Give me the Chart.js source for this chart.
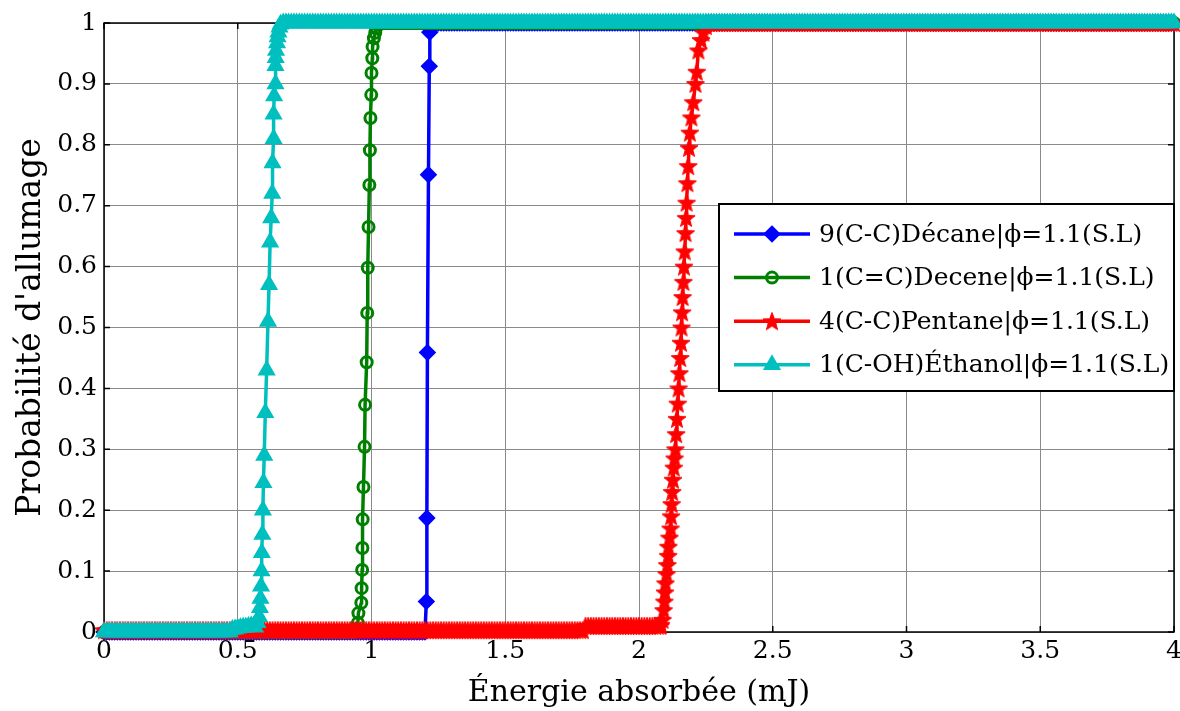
<!DOCTYPE html>
<html>
<head>
<meta charset="utf-8">
<script src="https://cdn.jsdelivr.net/npm/chart.js@4.4.1/dist/chart.umd.min.js"></script>
<style>
  html, body { margin: 0; padding: 0; background: #fff; }
  #wrap { width: 1180px; height: 711px; }
</style>
</head>
<body>
<div id="wrap"><canvas id="chart" width="1180" height="711"></canvas></div>
<script>
// legend text and tick values
const seriesNames = [
    '9(C-C)Décane|ϕ=1.1(S.L)',
    '1(C=C)Decene|ϕ=1.1(S.L)',
    '4(C-C)Pentane|ϕ=1.1(S.L)',
    '1(C-OH)Éthanol|ϕ=1.1(S.L)'
];
const xTickValues = [0, 0.5, 1, 1.5, 2, 2.5, 3, 3.5, 4];
const yTickValues = [0, 0.1, 0.2, 0.3, 0.4, 0.5, 0.6, 0.7, 0.8, 0.9, 1];

// energy grid (mJ), one row per 0.1 mJ
const energyGrid = [
0,0.01,0.02,0.03,0.04,0.05,0.06,0.07,0.08,0.09,
0.1,0.11,0.12,0.13,0.14,0.15,0.16,0.17,0.18,0.19,
0.2,0.21,0.22,0.23,0.24,0.25,0.26,0.27,0.28,0.29,
0.3,0.31,0.32,0.33,0.34,0.35,0.36,0.37,0.38,0.39,
0.4,0.41,0.42,0.43,0.44,0.45,0.46,0.47,0.48,0.49,
0.5,0.51,0.52,0.53,0.54,0.55,0.56,0.57,0.58,0.59,
0.6,0.61,0.62,0.63,0.64,0.65,0.66,0.67,0.68,0.69,
0.7,0.71,0.72,0.73,0.74,0.75,0.76,0.77,0.78,0.79,
0.8,0.81,0.82,0.83,0.84,0.85,0.86,0.87,0.88,0.89,
0.9,0.91,0.92,0.93,0.94,0.95,0.96,0.97,0.98,0.99,
1,1.01,1.02,1.03,1.04,1.05,1.06,1.07,1.08,1.09,
1.1,1.11,1.12,1.13,1.14,1.15,1.16,1.17,1.18,1.19,
1.2,1.21,1.22,1.23,1.24,1.25,1.26,1.27,1.28,1.29,
1.3,1.31,1.32,1.33,1.34,1.35,1.36,1.37,1.38,1.39,
1.4,1.41,1.42,1.43,1.44,1.45,1.46,1.47,1.48,1.49,
1.5,1.51,1.52,1.53,1.54,1.55,1.56,1.57,1.58,1.59,
1.6,1.61,1.62,1.63,1.64,1.65,1.66,1.67,1.68,1.69,
1.7,1.71,1.72,1.73,1.74,1.75,1.76,1.77,1.78,1.79,
1.8,1.81,1.82,1.83,1.84,1.85,1.86,1.87,1.88,1.89,
1.9,1.91,1.92,1.93,1.94,1.95,1.96,1.97,1.98,1.99,
2,2.01,2.02,2.03,2.04,2.05,2.06,2.07,2.08,2.09,
2.1,2.11,2.12,2.13,2.14,2.15,2.16,2.17,2.18,2.19,
2.2,2.21,2.22,2.23,2.24,2.25,2.26,2.27,2.28,2.29,
2.3,2.31,2.32,2.33,2.34,2.35,2.36,2.37,2.38,2.39,
2.4,2.41,2.42,2.43,2.44,2.45,2.46,2.47,2.48,2.49,
2.5,2.51,2.52,2.53,2.54,2.55,2.56,2.57,2.58,2.59,
2.6,2.61,2.62,2.63,2.64,2.65,2.66,2.67,2.68,2.69,
2.7,2.71,2.72,2.73,2.74,2.75,2.76,2.77,2.78,2.79,
2.8,2.81,2.82,2.83,2.84,2.85,2.86,2.87,2.88,2.89,
2.9,2.91,2.92,2.93,2.94,2.95,2.96,2.97,2.98,2.99,
3,3.01,3.02,3.03,3.04,3.05,3.06,3.07,3.08,3.09,
3.1,3.11,3.12,3.13,3.14,3.15,3.16,3.17,3.18,3.19,
3.2,3.21,3.22,3.23,3.24,3.25,3.26,3.27,3.28,3.29,
3.3,3.31,3.32,3.33,3.34,3.35,3.36,3.37,3.38,3.39,
3.4,3.41,3.42,3.43,3.44,3.45,3.46,3.47,3.48,3.49,
3.5,3.51,3.52,3.53,3.54,3.55,3.56,3.57,3.58,3.59,
3.6,3.61,3.62,3.63,3.64,3.65,3.66,3.67,3.68,3.69,
3.7,3.71,3.72,3.73,3.74,3.75,3.76,3.77,3.78,3.79,
3.8,3.81,3.82,3.83,3.84,3.85,3.86,3.87,3.88,3.89,
3.9,3.91,3.92,3.93,3.94,3.95,3.96,3.97,3.98,3.99,
4
];

// probability on the grid, same rows (null where the steep part below takes over)
const decaneProb = [
0,0,0,0,0,0,0,0,0,0,        // 0.0
0,0,0,0,0,0,0,0,0,0,
0,0,0,0,0,0,0,0,0,0,
0,0,0,0,0,0,0,0,0,0,
0,0,0,0,0,0,0,0,0,0,
0,0,0,0,0,0,0,0,0,0,
0,0,0,0,0,0,0,0,0,0,
0,0,0,0,0,0,0,0,0,0,
0,0,0,0,0,0,0,0,0,0,
0,0,0,0,0,0,0,0,0,0,
0,0,0,0,0,0,0,0,0,0,        // 1.0
0,0,0,0,0,0,0,0,0,0,
0,null,1,1,1,1,1,1,1,1,
1,1,1,1,1,1,1,1,1,1,
1,1,1,1,1,1,1,1,1,1,
1,1,1,1,1,1,1,1,1,1,
1,1,1,1,1,1,1,1,1,1,
1,1,1,1,1,1,1,1,1,1,
1,1,1,1,1,1,1,1,1,1,
1,1,1,1,1,1,1,1,1,1,
1,1,1,1,1,1,1,1,1,1,        // 2.0
1,1,1,1,1,1,1,1,1,1,
1,1,1,1,1,1,1,1,1,1,
1,1,1,1,1,1,1,1,1,1,
1,1,1,1,1,1,1,1,1,1,
1,1,1,1,1,1,1,1,1,1,
1,1,1,1,1,1,1,1,1,1,
1,1,1,1,1,1,1,1,1,1,
1,1,1,1,1,1,1,1,1,1,
1,1,1,1,1,1,1,1,1,1,
1,1,1,1,1,1,1,1,1,1,        // 3.0
1,1,1,1,1,1,1,1,1,1,
1,1,1,1,1,1,1,1,1,1,
1,1,1,1,1,1,1,1,1,1,
1,1,1,1,1,1,1,1,1,1,
1,1,1,1,1,1,1,1,1,1,
1,1,1,1,1,1,1,1,1,1,
1,1,1,1,1,1,1,1,1,1,
1,1,1,1,1,1,1,1,1,1,
1,1,1,1,1,1,1,1,1,1,
1                           // 4.0
];
const deceneProb = [
0,0,0,0,0,0,0,0,0,0,        // 0.0
0,0,0,0,0,0,0,0,0,0,
0,0,0,0,0,0,0,0,0,0,
0,0,0,0,0,0,0,0,0,0,
0,0,0,0,0,0,0,0,0,0,
0,0,0,0,0,0,0,0,0,0,
0,0,0,0,0,0,0,0,0,0,
0,0,0,0,0,0,0,0,0,0,
0,0,0,0,0,0,0,0,0,0,
0,0,0,0,0,null,null,null,null,null,
null,null,null,1,1,1,1,1,1,1, // 1.0
1,1,1,1,1,1,1,1,1,1,
1,1,1,1,1,1,1,1,1,1,
1,1,1,1,1,1,1,1,1,1,
1,1,1,1,1,1,1,1,1,1,
1,1,1,1,1,1,1,1,1,1,
1,1,1,1,1,1,1,1,1,1,
1,1,1,1,1,1,1,1,1,1,
1,1,1,1,1,1,1,1,1,1,
1,1,1,1,1,1,1,1,1,1,
1,1,1,1,1,1,1,1,1,1,        // 2.0
1,1,1,1,1,1,1,1,1,1,
1,1,1,1,1,1,1,1,1,1,
1,1,1,1,1,1,1,1,1,1,
1,1,1,1,1,1,1,1,1,1,
1,1,1,1,1,1,1,1,1,1,
1,1,1,1,1,1,1,1,1,1,
1,1,1,1,1,1,1,1,1,1,
1,1,1,1,1,1,1,1,1,1,
1,1,1,1,1,1,1,1,1,1,
1,1,1,1,1,1,1,1,1,1,        // 3.0
1,1,1,1,1,1,1,1,1,1,
1,1,1,1,1,1,1,1,1,1,
1,1,1,1,1,1,1,1,1,1,
1,1,1,1,1,1,1,1,1,1,
1,1,1,1,1,1,1,1,1,1,
1,1,1,1,1,1,1,1,1,1,
1,1,1,1,1,1,1,1,1,1,
1,1,1,1,1,1,1,1,1,1,
1,1,1,1,1,1,1,1,1,1,
1                           // 4.0
];
const pentaneProb = [
0.003,0.003,0.003,0.003,0.003,0.003,0.003,0.003,0.003,0.003, // 0.0
0.003,0.003,0.003,0.003,0.003,0.003,0.003,0.003,0.003,0.003,
0.003,0.003,0.003,0.003,0.003,0.003,0.003,0.003,0.003,0.003,
0.003,0.003,0.003,0.003,0.003,0.003,0.003,0.003,0.003,0.003,
0.003,0.003,0.003,0.003,0.003,0.003,0.003,0.003,0.003,0.003,
0.003,0.003,0.003,0.003,0.003,0.003,0.003,0.003,0.003,0.003,
0.003,0.003,0.003,0.003,0.003,0.003,0.003,0.003,0.003,0.003,
0.003,0.003,0.003,0.003,0.003,0.003,0.003,0.003,0.003,0.003,
0.003,0.003,0.003,0.003,0.003,0.003,0.003,0.003,0.003,0.003,
0.003,0.003,0.003,0.003,0.003,0.003,0.003,0.003,0.003,0.003,
0.003,0.003,0.003,0.003,0.003,0.003,0.003,0.003,0.003,0.003, // 1.0
0.003,0.003,0.003,0.003,0.003,0.003,0.003,0.003,0.003,0.003,
0.003,0.003,0.003,0.003,0.003,0.003,0.003,0.003,0.003,0.003,
0.003,0.003,0.003,0.003,0.003,0.003,0.003,0.003,0.003,0.003,
0.003,0.003,0.003,0.003,0.003,0.003,0.003,0.003,0.003,0.003,
0.003,0.003,0.003,0.003,0.003,0.003,0.003,0.003,0.003,0.003,
0.003,0.003,0.003,0.003,0.003,0.003,0.003,0.003,0.003,0.003,
0.003,0.003,0.003,0.003,0.003,0.003,0.003,0.003,0.003,0.003,
0.01,0.01,0.01,0.01,0.01,0.01,0.01,0.01,0.01,0.01,
0.01,0.01,0.01,0.01,0.01,0.01,0.01,0.01,0.01,0.01,
0.01,0.01,0.01,0.01,0.01,0.01,0.01,0.01,0.01,null,           // 2.0
null,null,null,null,null,null,null,null,null,null,
null,null,null,null,null,null,1,1,1,1,
1,1,1,1,1,1,1,1,1,1,
1,1,1,1,1,1,1,1,1,1,
1,1,1,1,1,1,1,1,1,1,
1,1,1,1,1,1,1,1,1,1,
1,1,1,1,1,1,1,1,1,1,
1,1,1,1,1,1,1,1,1,1,
1,1,1,1,1,1,1,1,1,1,
1,1,1,1,1,1,1,1,1,1,        // 3.0
1,1,1,1,1,1,1,1,1,1,
1,1,1,1,1,1,1,1,1,1,
1,1,1,1,1,1,1,1,1,1,
1,1,1,1,1,1,1,1,1,1,
1,1,1,1,1,1,1,1,1,1,
1,1,1,1,1,1,1,1,1,1,
1,1,1,1,1,1,1,1,1,1,
1,1,1,1,1,1,1,1,1,1,
1,1,1,1,1,1,1,1,1,1,
1                           // 4.0
];
const ethanolProb = [
0,0,0,0,0,0,0,0,0,0,        // 0.0
0,0,0,0,0,0,0,0,0,0,
0,0,0,0,0,0,0,0,0,0,
0,0,0,0,0,0,0,0,0,0,
0,0,0,0,0,0,0,0,0.004,0.005,
0.006,0.007,0.008,0.008,0.009,0.01,0.01,null,null,null,
null,null,null,null,null,null,null,1,1,1,
1,1,1,1,1,1,1,1,1,1,
1,1,1,1,1,1,1,1,1,1,
1,1,1,1,1,1,1,1,1,1,
1,1,1,1,1,1,1,1,1,1,        // 1.0
1,1,1,1,1,1,1,1,1,1,
1,1,1,1,1,1,1,1,1,1,
1,1,1,1,1,1,1,1,1,1,
1,1,1,1,1,1,1,1,1,1,
1,1,1,1,1,1,1,1,1,1,
1,1,1,1,1,1,1,1,1,1,
1,1,1,1,1,1,1,1,1,1,
1,1,1,1,1,1,1,1,1,1,
1,1,1,1,1,1,1,1,1,1,
1,1,1,1,1,1,1,1,1,1,        // 2.0
1,1,1,1,1,1,1,1,1,1,
1,1,1,1,1,1,1,1,1,1,
1,1,1,1,1,1,1,1,1,1,
1,1,1,1,1,1,1,1,1,1,
1,1,1,1,1,1,1,1,1,1,
1,1,1,1,1,1,1,1,1,1,
1,1,1,1,1,1,1,1,1,1,
1,1,1,1,1,1,1,1,1,1,
1,1,1,1,1,1,1,1,1,1,
1,1,1,1,1,1,1,1,1,1,        // 3.0
1,1,1,1,1,1,1,1,1,1,
1,1,1,1,1,1,1,1,1,1,
1,1,1,1,1,1,1,1,1,1,
1,1,1,1,1,1,1,1,1,1,
1,1,1,1,1,1,1,1,1,1,
1,1,1,1,1,1,1,1,1,1,
1,1,1,1,1,1,1,1,1,1,
1,1,1,1,1,1,1,1,1,1,
1,1,1,1,1,1,1,1,1,1,
1                           // 4.0
];

// steep parts [energy, probability], read point by point
const decaneSteep = [
[1.205,0.05],[1.207,0.187],[1.209,0.459],[1.213,0.751],[1.216,0.929],[1.218,0.985]
];
const deceneSteep = [
[0.945,0.005],[0.949,0.015],[0.951,0.031],[0.962,0.048],[0.963,0.072],[0.965,0.102],[0.966,0.138],
[0.967,0.185],[0.97,0.238],[0.974,0.304],[0.976,0.373],[0.982,0.443],[0.984,0.524],[0.986,0.598],
[0.989,0.665],[0.992,0.734],[0.994,0.791],[0.996,0.844],[0.999,0.882],[1,0.918],[1.003,0.942],
[1.004,0.961],[1.009,0.975],[1.014,0.984],[1.018,0.992],[1.022,0.997]
];
const pentaneSteep = [
[2.082,0.012],[2.088,0.02],[2.092,0.036],[2.095,0.05],[2.097,0.065],[2.099,0.08],[2.103,0.095],[2.106,0.11],
[2.109,0.125],[2.11,0.14],[2.114,0.155],[2.118,0.17],[2.12,0.19],[2.122,0.21],[2.124,0.23],[2.127,0.25],
[2.13,0.27],[2.133,0.285],[2.136,0.3],[2.139,0.325],[2.142,0.35],[2.145,0.375],[2.148,0.4],[2.151,0.425],
[2.154,0.45],[2.157,0.475],[2.159,0.5],[2.161,0.525],[2.163,0.55],[2.166,0.575],[2.168,0.6],[2.171,0.625],
[2.174,0.655],[2.176,0.68],[2.178,0.705],[2.181,0.737],[2.184,0.765],[2.187,0.795],[2.19,0.82],[2.196,0.845],
[2.203,0.87],[2.211,0.9],[2.216,0.92],[2.222,0.955],[2.232,0.972],[2.241,0.984],[2.25,0.995]
];
const ethanolSteep = [
[0.565,0.008],[0.574,0.015],[0.58,0.025],[0.583,0.04],[0.585,0.055],[0.587,0.075],[0.589,0.1],[0.59,0.13],
[0.592,0.16],[0.594,0.2],[0.596,0.245],[0.599,0.29],[0.603,0.36],[0.608,0.43],[0.613,0.51],[0.617,0.57],
[0.621,0.64],[0.625,0.68],[0.629,0.72],[0.63,0.77],[0.634,0.81],[0.634,0.85],[0.636,0.88],[0.641,0.9],
[0.641,0.93],[0.642,0.943],[0.643,0.955],[0.647,0.967],[0.649,0.977],[0.652,0.985],[0.656,0.993],[0.66,0.998]
];

const FONT = '"DejaVu Serif", "Liberation Serif", serif';

function buildPoints(prob, steep) {
    const pts = [];
    energyGrid.forEach((x, i) => {
        if (prob[i] != null) pts.push({ x: x, y: prob[i] });
    });
    steep.forEach(p => pts.push({ x: p[0], y: p[1] }));
    pts.sort((a, b) => a.x - b.x);
    return pts;
}

// matlab style pentagram marker
function makeStar(color, size) {
    const c = document.createElement('canvas');
    c.width = size;
    c.height = size;
    const g = c.getContext('2d');
    const cx = size / 2, cy = size / 2 + 0.8;
    const ro = size / 2 - 0.5, ri = ro * 0.42;
    g.beginPath();
    for (let i = 0; i < 10; i++) {
        const r = i % 2 ? ri : ro;
        const a = -Math.PI / 2 + i * Math.PI / 5;
        g.lineTo(cx + r * Math.cos(a), cy + r * Math.sin(a));
    }
    g.closePath();
    g.fillStyle = color;
    g.fill();
    g.strokeStyle = color;
    g.lineWidth = 1;
    g.stroke();
    return c;
}

function makeSeries(label, points, color, marker, radius, fillColor, markerWidth, order) {
    return {
        label: label,
        data: points,
        showLine: true,
        tension: 0,
        borderColor: color,
        backgroundColor: color,
        borderWidth: 3.5,
        pointStyle: marker,
        pointRadius: radius,
        pointBorderWidth: markerWidth,
        pointBorderColor: color,
        pointBackgroundColor: fillColor,
        clip: false,
        order: order
    };
}

// box around the axes with inward ticks, like matlab
const axesBox = {
    id: 'axesBox',
    beforeDatasetsDraw(chart) {
        const { ctx, chartArea: a, scales } = chart;
        ctx.save();
        ctx.strokeStyle = '#000';
        ctx.lineWidth = 1.5;
        ctx.strokeRect(a.left, a.top, a.right - a.left, a.bottom - a.top);
        ctx.beginPath();
        xTickValues.forEach(v => {
            const px = scales.x.getPixelForValue(v);
            ctx.moveTo(px, a.bottom); ctx.lineTo(px, a.bottom - 6);
            ctx.moveTo(px, a.top); ctx.lineTo(px, a.top + 6);
        });
        yTickValues.forEach(v => {
            const py = scales.y.getPixelForValue(v);
            ctx.moveTo(a.left, py); ctx.lineTo(a.left + 6, py);
            ctx.moveTo(a.right, py); ctx.lineTo(a.right - 6, py);
        });
        ctx.stroke();
        ctx.restore();
    }
};

// legend box drawn inside the plot area
const boxLegend = {
    id: 'boxLegend',
    afterDraw(chart) {
        const { ctx, chartArea } = chart;
        const w = 455, h = 187;
        const x0 = chartArea.right - w, y0 = chartArea.top + 181;
        ctx.save();
        ctx.fillStyle = '#fff';
        ctx.fillRect(x0, y0, w, h);
        ctx.strokeStyle = '#000';
        ctx.lineWidth = 2;
        ctx.strokeRect(x0, y0, w, h);
        ctx.font = '25px ' + FONT;
        ctx.textBaseline = 'middle';
        chart.data.datasets.forEach((ds, i) => {
            const y = y0 + 30 + i * 43.6;
            ctx.strokeStyle = ds.borderColor;
            ctx.lineWidth = ds.borderWidth;
            ctx.beginPath();
            ctx.moveTo(x0 + 15, y);
            ctx.lineTo(x0 + 91, y);
            ctx.stroke();
            ctx.fillStyle = ds.pointBackgroundColor;
            ctx.strokeStyle = ds.pointBorderColor;
            ctx.lineWidth = ds.pointBorderWidth;
            Chart.helpers.drawPoint(ctx, {
                pointStyle: ds.pointStyle, radius: ds.pointRadius,
                borderWidth: ds.pointBorderWidth, rotation: 0
            }, x0 + 53, y);
            ctx.fillStyle = '#000';
            ctx.fillText(ds.label, x0 + 100, y + 1);
        });
        ctx.restore();
    }
};

const starMarker = makeStar('#ff0000', 20);

new Chart(document.getElementById('chart'), {
    type: 'scatter',
    data: {
        datasets: [
            makeSeries(seriesNames[0], buildPoints(decaneProb, decaneSteep), '#0000ff', 'rectRot', 7, '#0000ff', 2.5, 4),
            makeSeries(seriesNames[1], buildPoints(deceneProb, deceneSteep), '#008000', 'circle', 5.5, 'rgba(0,0,0,0)', 3, 3),
            makeSeries(seriesNames[2], buildPoints(pentaneProb, pentaneSteep), '#ff0000', starMarker, 9, '#ff0000', 2.5, 2),
            makeSeries(seriesNames[3], buildPoints(ethanolProb, ethanolSteep), '#00bfbf', 'triangle', 8, '#00bfbf', 2.5, 1)
        ]
    },
    options: {
        responsive: false,
        animation: false,
        devicePixelRatio: 1,
        events: [],
        layout: { autoPadding: false, padding: { left: 4, right: 6, top: 23, bottom: 0 } },
        plugins: {
            legend: { display: false },
            tooltip: { enabled: false }
        },
        scales: {
            x: {
                type: 'linear',
                min: 0,
                max: 4,
                afterBuildTicks: s => { s.ticks = xTickValues.map(v => ({ value: v })); },
                afterFit: s => { s.height = 79; s.paddingRight = 0; s.paddingLeft = 0; },
                ticks: {
                    color: '#000', font: { family: FONT, size: 25 }, padding: 4, maxRotation: 0,
                    callback: v => String(v)
                },
                grid: { color: '#8a8a8a', lineWidth: 1, drawTicks: false },
                border: { display: false },
                title: {
                    display: true,
                    text: 'Énergie absorbée (mJ)',
                    color: '#000',
                    font: { family: FONT, size: 30 },
                    padding: { top: 0, bottom: 0 }
                }
            },
            y: {
                type: 'linear',
                min: 0,
                max: 1,
                afterBuildTicks: s => { s.ticks = yTickValues.map(v => ({ value: v })); },
                afterFit: s => { s.width = 100; s.paddingTop = 0; s.paddingBottom = 0; },
                ticks: {
                    color: '#000', font: { family: FONT, size: 25 }, padding: 7,
                    callback: v => String(v)
                },
                grid: { color: '#8a8a8a', lineWidth: 1, drawTicks: false },
                border: { display: false },
                title: {
                    display: true,
                    text: "Probabilité d'allumage",
                    color: '#000',
                    font: { family: FONT, size: 33 },
                    padding: { top: 8, bottom: 0 }
                }
            }
        }
    },
    plugins: [axesBox, boxLegend]
});
</script>
</body>
</html>
